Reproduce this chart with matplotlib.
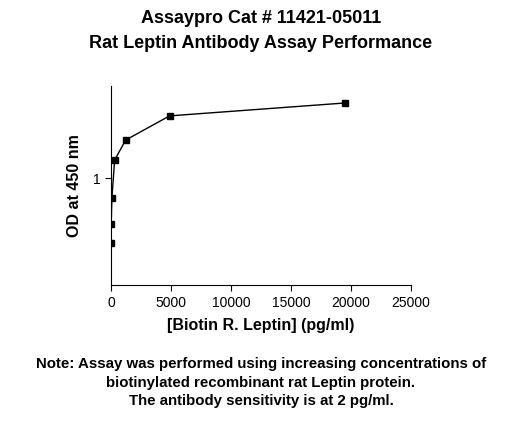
import matplotlib
matplotlib.use("Agg")
import matplotlib.pyplot as plt
from matplotlib.ticker import FixedLocator, NullLocator, FixedFormatter

plt.rcParams['font.family'] = ['Liberation Sans', 'DejaVu Sans']

# 4-fold dilution series of biotinylated leptin (pg/ml) and OD readings
conc = [4.8, 19, 76, 305, 1221, 4883, 19531]
od = [0.47, 0.59, 0.79, 1.23, 1.55, 2.05, 2.38]

fig = plt.figure(figsize=(5.22, 4.25), dpi=100)
ax = fig.add_axes([0.2126, 0.329, 0.5747, 0.469])

ax.plot(conc, od, color='black', linewidth=1, marker='s', markersize=4)
ax.set_yscale('log')
ax.set_ylim(0.29, 2.9)
ax.set_xlim(0, 25000)
ax.yaxis.set_major_locator(FixedLocator([1]))
ax.yaxis.set_major_formatter(FixedFormatter(['1']))
ax.yaxis.set_minor_locator(NullLocator())
ax.set_xticks([0, 5000, 10000, 15000, 20000, 25000])
ax.tick_params(labelsize=10, length=4)

for s in ['top', 'right']:
    ax.spines[s].set_visible(False)

ax.set_xlabel('[Biotin R. Leptin] (pg/ml)', fontsize=11.5, fontweight='bold', labelpad=6)
ax.set_ylabel('OD at 450 nm', fontsize=11.5, fontweight='bold', labelpad=8)

fig.text(0.5, 0.927, 'Assaypro Cat # 11421-05011\nRat Leptin Antibody Assay Performance',
         ha='center', va='center', fontsize=13, fontweight='bold', linespacing=1.55)
fig.text(0.5, 0.1, 'Note: Assay was performed using increasing concentrations of\n'
         'biotinylated recombinant rat Leptin protein.\n'
         'The antibody sensitivity is at 2 pg/ml.',
         ha='center', va='center', fontsize=10.8, fontweight='bold', linespacing=1.45)

fig.savefig('out.png', dpi=100)
